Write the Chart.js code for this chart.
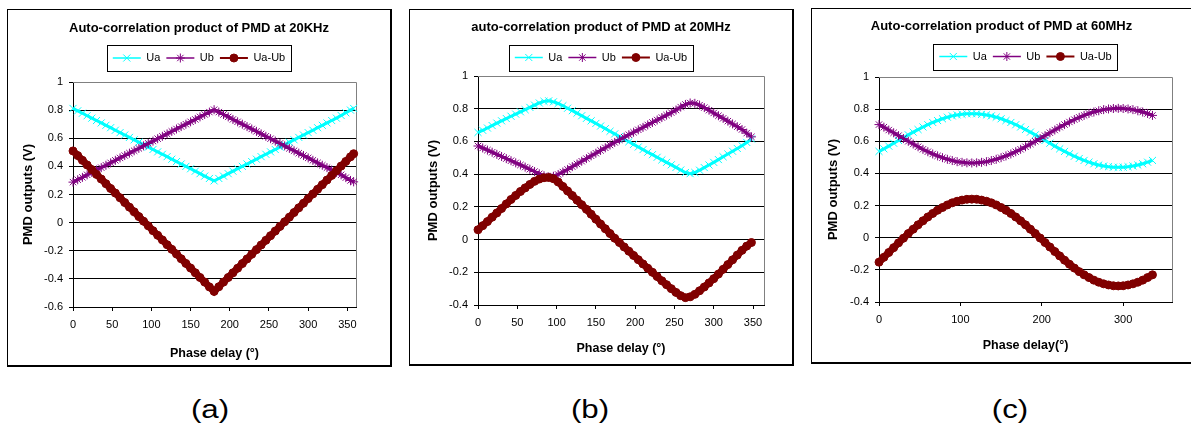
<!DOCTYPE html>
<html lang="en">
<head>
<meta charset="UTF-8">
<title>Auto-correlation product of PMD</title>
<script src="https://cdn.jsdelivr.net/npm/chart.js@4.4.1/dist/chart.umd.min.js"></script>
<style>
  body { margin: 0; background: #fff; width: 1191px; height: 427px; overflow: hidden; position: relative; font-family: Arial, "Liberation Sans", sans-serif; }
  .panel { position: absolute; box-sizing: border-box; border: 1px solid #000; border-right-width: 2px; border-bottom-width: 2px; }
  canvas { position: absolute; }
  .cap { position: absolute; top: 394px; width: 80px; line-height: 30px; text-align: center; font-size: 25px; color: #000; transform: scaleX(1.25); }
</style>
</head>
<body>

<div class="panel" style="left:7px;top:9px;width:385px;height:358px"></div>
<div class="panel" style="left:409px;top:9px;width:385px;height:357px"></div>
<div class="panel" style="left:811px;top:8px;width:400px;height:356px"></div>

<canvas id="chartA" width="382" height="355" style="left:8px;top:10px"></canvas>
<canvas id="chartB" width="382" height="355" style="left:410px;top:10px"></canvas>
<canvas id="chartC" width="379" height="354" style="left:812px;top:9px"></canvas>

<div class="cap" style="left:170px">(a)</div>
<div class="cap" style="left:550px">(b)</div>
<div class="cap" style="left:970px">(c)</div>

<script>
// ---- data ----
var seriesNames = ['Ua', 'Ub', 'Ua-Ub'];
var yTicksA = [-0.6, -0.4, -0.2, 0, 0.2, 0.4, 0.6, 0.8, 1];
var yTicksBC = [-0.4, -0.2, 0, 0.2, 0.4, 0.6, 0.8, 1];

// (a) 20 kHz
var phaseA = [0, 6, 12, 18, 24, 30, 36, 42, 48, 54, 60, 66, 72, 78, 84, 90, 96, 102, 108, 114,
  120, 126, 132, 138, 144, 150, 156, 162, 168, 174, 180, 186, 192, 198, 204, 210, 216, 222, 228, 234,
  240, 246, 252, 258, 264, 270, 276, 282, 288, 294, 300, 306, 312, 318, 324, 330, 336, 342, 348, 354, 358];
var uaA = [0.812, 0.795, 0.778, 0.760, 0.743, 0.726, 0.709, 0.692, 0.675, 0.657,
  0.640, 0.623, 0.606, 0.589, 0.572, 0.554, 0.537, 0.520, 0.503, 0.486,
  0.469, 0.451, 0.434, 0.417, 0.400, 0.383, 0.366, 0.348, 0.331, 0.314,
  0.297, 0.314, 0.331, 0.348, 0.366, 0.383, 0.400, 0.417, 0.434, 0.451,
  0.469, 0.486, 0.503, 0.520, 0.537, 0.554, 0.572, 0.589, 0.606, 0.623,
  0.640, 0.657, 0.675, 0.692, 0.709, 0.726, 0.743, 0.762, 0.781, 0.800, 0.812];
var ubA = [0.288, 0.305, 0.322, 0.340, 0.357, 0.374, 0.391, 0.408, 0.425, 0.443,
  0.460, 0.477, 0.494, 0.511, 0.528, 0.546, 0.563, 0.580, 0.597, 0.614,
  0.631, 0.649, 0.666, 0.683, 0.700, 0.717, 0.734, 0.752, 0.769, 0.786,
  0.803, 0.786, 0.769, 0.752, 0.734, 0.717, 0.700, 0.683, 0.666, 0.649,
  0.631, 0.614, 0.597, 0.580, 0.563, 0.546, 0.528, 0.511, 0.494, 0.477,
  0.460, 0.443, 0.425, 0.408, 0.391, 0.374, 0.357, 0.340, 0.320, 0.300, 0.290];
var diffA = [0.510, 0.477, 0.443, 0.410, 0.377, 0.343, 0.310, 0.277, 0.243, 0.210,
  0.177, 0.143, 0.110, 0.077, 0.043, 0.010, -0.023, -0.057, -0.090, -0.123,
  -0.157, -0.190, -0.223, -0.257, -0.290, -0.323, -0.357, -0.390, -0.423, -0.457,
  -0.489, -0.456, -0.423, -0.390, -0.357, -0.324, -0.291, -0.258, -0.225, -0.192,
  -0.159, -0.126, -0.093, -0.060, -0.027, 0.006, 0.039, 0.072, 0.105, 0.138,
  0.171, 0.204, 0.237, 0.270, 0.303, 0.336, 0.369, 0.402, 0.435, 0.468, 0.490];

// (b) 20 MHz
var phaseB = [0, 6, 12, 18, 24, 30, 36, 42, 48, 54, 60, 66, 72, 78, 84, 90, 96, 102, 108, 114,
  120, 126, 132, 138, 144, 150, 156, 162, 168, 174, 180, 186, 192, 198, 204, 210, 216, 222, 228, 234,
  240, 246, 252, 258, 264, 270, 276, 282, 288, 294, 300, 306, 312, 318, 324, 330, 336, 342, 348];
var uaB = [0.655, 0.668, 0.682, 0.697, 0.712, 0.726, 0.740, 0.754, 0.767, 0.781,
  0.794, 0.808, 0.822, 0.835, 0.845, 0.848, 0.842, 0.832, 0.818, 0.803,
  0.788, 0.773, 0.757, 0.741, 0.726, 0.710, 0.694, 0.678, 0.662, 0.646,
  0.630, 0.614, 0.598, 0.582, 0.566, 0.550, 0.534, 0.519, 0.503, 0.487,
  0.472, 0.457, 0.441, 0.425, 0.410, 0.403, 0.410, 0.424, 0.440, 0.456,
  0.472, 0.489, 0.506, 0.523, 0.540, 0.557, 0.574, 0.594, 0.615];
var ubB = [0.572, 0.560, 0.547, 0.534, 0.521, 0.508, 0.495, 0.482, 0.469, 0.456,
  0.443, 0.430, 0.416, 0.402, 0.390, 0.383, 0.387, 0.398, 0.413, 0.429,
  0.446, 0.462, 0.479, 0.495, 0.512, 0.528, 0.545, 0.561, 0.578, 0.594,
  0.610, 0.626, 0.641, 0.656, 0.671, 0.686, 0.701, 0.716, 0.731, 0.746,
  0.761, 0.776, 0.792, 0.810, 0.826, 0.835, 0.833, 0.822, 0.807, 0.791,
  0.774, 0.757, 0.741, 0.724, 0.707, 0.690, 0.673, 0.651, 0.628];
var diffB = [0.060, 0.085, 0.110, 0.137, 0.163, 0.190, 0.218, 0.245, 0.270, 0.294,
  0.316, 0.337, 0.356, 0.370, 0.378, 0.380, 0.372, 0.352, 0.325, 0.297,
  0.269, 0.241, 0.213, 0.185, 0.155, 0.125, 0.095, 0.066, 0.037, 0.008,
  -0.018, -0.045, -0.071, -0.097, -0.123, -0.149, -0.175, -0.200, -0.226, -0.252,
  -0.276, -0.300, -0.323, -0.343, -0.355, -0.350, -0.335, -0.313, -0.290, -0.265,
  -0.239, -0.211, -0.182, -0.153, -0.124, -0.095, -0.066, -0.040, -0.018];

// (c) 60 MHz
var phaseC = [0, 6, 12, 18, 24, 30, 36, 42, 48, 54, 60, 66, 72, 78, 84, 90, 96, 102, 108, 114,
  120, 126, 132, 138, 144, 150, 156, 162, 168, 174, 180, 186, 192, 198, 204, 210, 216, 222, 228, 234,
  240, 246, 252, 258, 264, 270, 276, 282, 288, 294, 300, 306, 312, 318, 324, 330, 336];
var uaC = [0.537, 0.553, 0.570, 0.588, 0.605, 0.622, 0.640, 0.657, 0.673, 0.689,
  0.703, 0.717, 0.729, 0.740, 0.750, 0.758, 0.764, 0.768, 0.771, 0.772,
  0.771, 0.768, 0.764, 0.758, 0.750, 0.740, 0.729, 0.717, 0.703, 0.689,
  0.673, 0.657, 0.640, 0.622, 0.605, 0.588, 0.570, 0.553, 0.537, 0.522,
  0.507, 0.493, 0.481, 0.470, 0.460, 0.452, 0.446, 0.442, 0.439, 0.438,
  0.439, 0.442, 0.446, 0.452, 0.460, 0.470, 0.481];
var ubC = [0.704, 0.688, 0.670, 0.653, 0.635, 0.617, 0.600, 0.583, 0.566, 0.550,
  0.535, 0.521, 0.509, 0.498, 0.488, 0.480, 0.473, 0.469, 0.466, 0.465,
  0.466, 0.469, 0.473, 0.480, 0.488, 0.498, 0.509, 0.521, 0.535, 0.550,
  0.566, 0.583, 0.600, 0.617, 0.635, 0.653, 0.670, 0.688, 0.704, 0.720,
  0.735, 0.749, 0.761, 0.773, 0.782, 0.790, 0.797, 0.801, 0.804, 0.805,
  0.804, 0.801, 0.797, 0.790, 0.782, 0.773, 0.761];
var diffC = [-0.152, -0.122, -0.092, -0.062, -0.032, -0.003, 0.026, 0.053, 0.080, 0.105,
  0.129, 0.151, 0.171, 0.188, 0.204, 0.217, 0.227, 0.234, 0.239, 0.240,
  0.239, 0.234, 0.227, 0.217, 0.204, 0.188, 0.171, 0.151, 0.129, 0.105,
  0.080, 0.053, 0.026, -0.002, -0.030, -0.058, -0.086, -0.113, -0.140, -0.165,
  -0.189, -0.211, -0.231, -0.248, -0.264, -0.277, -0.287, -0.294, -0.299, -0.300,
  -0.299, -0.294, -0.287, -0.277, -0.264, -0.248, -0.231];

// ---- drawing ----
var FONT = 'Arial, "Liberation Sans", sans-serif';
var LEG_BOX = 28;
var styles = [
  { color: '#00FFFF', point: 'crossRot', radius: 5, line: 3, legLine: 1.5 },
  { color: '#800080', point: 'star', radius: 4.5, line: 3, legLine: 1.5 },
  { color: '#800000', point: 'circle', radius: 4, line: 7, legLine: 2 }
];

function drawMarker(ctx, style, x, y, r, color) {
  ctx.strokeStyle = color;
  ctx.fillStyle = color;
  ctx.lineWidth = 1;
  ctx.beginPath();
  if (style === 'circle') {
    ctx.arc(x, y, r, 0, Math.PI * 2);
    ctx.fill();
    ctx.stroke();
    return;
  }
  var d = r * 0.7071;
  ctx.moveTo(x - d, y - d); ctx.lineTo(x + d, y + d);
  ctx.moveTo(x - d, y + d); ctx.lineTo(x + d, y - d);
  if (style === 'star') {
    ctx.moveTo(x, y - r); ctx.lineTo(x, y + r);
    ctx.moveTo(x - r, y); ctx.lineTo(x + r, y);
  }
  ctx.stroke();
}

// gray plot-area frame (top / right) and the excel style legend with line + marker
var excelLook = {
  id: 'excelLook',
  beforeDatasetsDraw: function (chart) {
    var a = chart.chartArea, ctx = chart.ctx;
    ctx.save();
    ctx.strokeStyle = '#808080';
    ctx.lineWidth = 1;
    ctx.beginPath();
    ctx.moveTo(a.left, Math.round(a.top) + 0.5);
    ctx.lineTo(Math.round(a.right) + 0.5, Math.round(a.top) + 0.5);
    ctx.lineTo(Math.round(a.right) + 0.5, a.bottom);
    ctx.stroke();
    ctx.restore();
  },
  afterDraw: function (chart) {
    var lg = chart.legend, ctx = chart.ctx;
    var boxes = lg.legendHitBoxes, items = lg.legendItems;
    ctx.save();
    boxes.forEach(function (hb, i) {
      var st = styles[items[i].datasetIndex];
      var cy = hb.top + hb.height / 2;
      ctx.strokeStyle = st.color;
      ctx.lineWidth = st.legLine;
      ctx.beginPath();
      ctx.moveTo(hb.left, cy);
      ctx.lineTo(hb.left + LEG_BOX, cy);
      ctx.stroke();
      drawMarker(ctx, st.point, hb.left + LEG_BOX / 2, cy, st.radius, st.color);
    });
    var first = boxes[0], last = boxes[boxes.length - 1];
    var cy0 = Math.round(first.top + first.height / 2);
    ctx.strokeStyle = '#000';
    ctx.lineWidth = 1;
    ctx.strokeRect(Math.round(first.left - 6) + 0.5, cy0 - 13 + 0.5,
      Math.round(last.left + last.width - first.left + 12), 26);
    ctx.restore();
  }
};

function makeChart(id, p) {
  var values = [p.ua, p.ub, p.diff];
  var datasets = values.map(function (vals, k) {
    var st = styles[k];
    return {
      label: seriesNames[k],
      data: p.phase.map(function (x, i) { return { x: x, y: vals[i] }; }),
      borderColor: st.color,
      backgroundColor: st.color,
      borderWidth: st.line,
      pointStyle: st.point,
      pointRadius: st.radius,
      pointBorderWidth: 1,
      pointBorderColor: st.color,
      pointBackgroundColor: st.color,
      tension: 0,
      clip: false,
      order: 3 - k
    };
  });

  return new Chart(document.getElementById(id), {
    type: 'line',
    data: { datasets: datasets },
    plugins: [excelLook],
    options: {
      responsive: false,
      animation: false,
      devicePixelRatio: 1,
      layout: { padding: 0 },
      plugins: {
        tooltip: { enabled: false },
        title: {
          display: true, text: p.title, color: '#000',
          font: { family: FONT, size: 13, weight: 'bold' },
          padding: { top: p.tTop, bottom: p.tBot }
        },
        legend: {
          fullSize: p.legFull,
          labels: {
            boxWidth: LEG_BOX, boxHeight: p.legH, padding: 6, color: '#000',
            font: { family: FONT, size: 11 },
            sort: function (a, b) { return a.datasetIndex - b.datasetIndex; },
            generateLabels: function (chart) {
              var items = Chart.defaults.plugins.legend.labels.generateLabels(chart);
              items.forEach(function (it) {
                it.fillStyle = 'rgba(0,0,0,0)';
                it.strokeStyle = 'rgba(0,0,0,0)';
                it.lineWidth = 0;
              });
              return items;
            }
          }
        }
      },
      scales: {
        x: {
          type: 'linear', min: 0, max: p.xMax,
          ticks: {
            stepSize: p.xStep, includeBounds: false, maxRotation: 0, padding: 7,
            color: '#000', font: { family: FONT, size: 11 }
          },
          grid: { drawOnChartArea: false, drawTicks: true, tickLength: 4, color: '#000' },
          border: { color: '#000' },
          title: {
            display: true, text: p.xTitle, color: '#000',
            font: { family: FONT, size: 12.5, weight: 'bold' },
            padding: { top: 0, bottom: p.xtPad }
          },
          afterFit: function (s) { s.height = p.xH; }
        },
        y: {
          min: p.yTicks[0], max: p.yTicks[p.yTicks.length - 1],
          afterBuildTicks: function (s) { s.ticks = p.yTicks.map(function (v) { return { value: v }; }); },
          ticks: {
            padding: 6, color: '#000', font: { family: FONT, size: 11 },
            callback: function (v) { return String(+v.toFixed(1)); }
          },
          grid: {
            tickLength: 4, tickColor: '#000',
            color: function (c) { return c.tick && c.tick.value > 0.99 ? '#808080' : '#000'; }
          },
          border: { color: '#000' },
          title: {
            display: true, text: 'PMD outputs (V)', color: '#000',
            font: { family: FONT, size: 13, weight: 'bold' },
            padding: { top: p.ytPad, bottom: 0 }
          },
          afterFit: function (s) { s.width = p.yW; }
        },
        // empty right-hand box: keeps the plot area off the right edge without shifting title/legend
        spacer: {
          type: 'linear', position: 'right', display: true,
          ticks: { display: false }, grid: { display: false }, border: { display: false },
          afterFit: function (s) { s.width = p.padR; }
        }
      }
    }
  });
}

makeChart('chartA', {
  title: 'Auto-correlation product of PMD at 20KHz', xTitle: 'Phase delay (°)',
  phase: phaseA, ua: uaA, ub: ubA, diff: diffA, yTicks: yTicksA,
  xMax: 361, xStep: 50, padR: 34, yW: 65, xH: 58,
  tTop: 10.2, tBot: 2.2, legH: 28, legFull: true, ytPad: 12.2, xtPad: 4
});
makeChart('chartB', {
  title: 'auto-correlation product of PMD at 20MHz', xTitle: 'Phase delay (°)',
  phase: phaseB, ua: uaB, ub: ubB, diff: diffB, yTicks: yTicksBC,
  xMax: 364, xStep: 50, padR: 28, yW: 68, xH: 60,
  tTop: 9.2, tBot: 8.2, legH: 17, legFull: true, ytPad: 15.2, xtPad: 8.5
});
makeChart('chartC', {
  title: 'Auto-correlation product of PMD at 60MHz', xTitle: 'Phase delay(°)',
  phase: phaseC, ua: uaC, ub: ubC, diff: diffC, yTicks: yTicksBC,
  xMax: 360, xStep: 100, padR: 19, yW: 67, xH: 61,
  tTop: 9.2, tBot: 6.2, legH: 21, legFull: false, ytPad: 13.2, xtPad: 9.5
});
</script>
</body>
</html>
